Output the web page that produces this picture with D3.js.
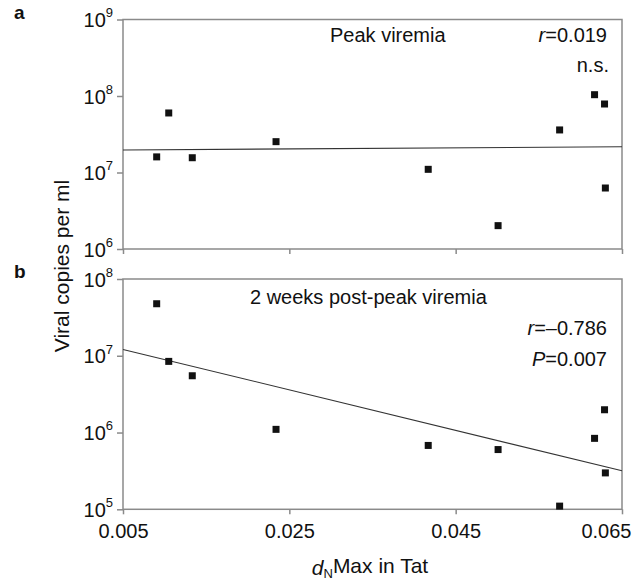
<!DOCTYPE html>
<html>
<head>
<meta charset="utf-8">
<script src="https://cdn.jsdelivr.net/npm/d3@7"></script>
<style>
	body { margin: 0; background: #fff; }
	svg { font-family: "Liberation Sans", Arial, sans-serif; }
</style>
</head>
<body>
<svg id="chart" width="642" height="583"></svg>
<script>
// dN max in Tat, one value per animal
var dnMax = [0.00905, 0.0105, 0.01333, 0.0234, 0.0417, 0.0501, 0.0575, 0.0617, 0.0629, 0.0630];

// viral copies per ml at peak viremia
var peakViremia = [1.6e7, 6.0e7, 1.56e7, 2.53e7, 1.1e7, 2.02e6, 3.6e7, 1.04e8, 7.86e7, 6.27e6];

// viral copies per ml 2 weeks post-peak
var postPeak = [4.76e7, 8.45e6, 5.49e6, 1.1e6, 6.79e5, 6.0e5, 1.1e5, 8.4e5, 1.98e6, 2.98e5];

// fitted lines, value at dN = 0.005 and 0.065
var fitX = [0.005, 0.065];
var fitPeak = [1.97e7, 2.17e7];
var fitPost = [1.21e7, 3.17e5];

var xTicks = [0.005, 0.025, 0.045, 0.065];
var peakTicks = [1e6, 1e7, 1e8, 1e9];
var postTicks = [1e5, 1e6, 1e7, 1e8];

var svg = d3.select("#chart");
var left = 123, right = 622;
var axisColor = "#8a8a8a";

var x = d3.scaleLinear()
	.domain([0.005, 0.065])
	.range([left, right]);

function drawPanel(opts) {
	var y = d3.scaleLog()
		.domain(opts.domain)
		.range([opts.bottom, opts.top]);

	var g = svg.append("g");

	// frame
	g.append("rect")
		.attr("x", left)
		.attr("y", opts.top)
		.attr("width", right - left)
		.attr("height", opts.bottom - opts.top)
		.attr("fill", "none")
		.attr("stroke", axisColor)
		.attr("stroke-width", 1.5);

	// x axis
	var xAxis = g.append("g")
		.attr("transform", "translate(0," + opts.bottom + ")")
		.call(d3.axisBottom(x)
			.tickValues(xTicks)
			.tickSize(5)
			.tickPadding(10)
			.tickFormat(opts.showX ? d3.format(".3f") : ""));
	xAxis.select(".domain").remove();
	xAxis.selectAll(".tick line").attr("stroke", axisColor).attr("stroke-width", 1.5);
	xAxis.selectAll(".tick text")
		.attr("font-size", 20)
		.attr("fill", "#111");
	// last label pulled in so it stays on the page
	xAxis.selectAll(".tick text")
		.filter((d) => d === 0.065)
		.attr("text-anchor", "end")
		.attr("x", 9);

	// y axis, powers of ten
	var yAxis = g.append("g")
		.attr("transform", "translate(" + left + ",0)")
		.call(d3.axisLeft(y)
			.tickValues(opts.ticks)
			.tickSize(6)
			.tickPadding(4)
			.tickFormat(""));
	yAxis.select(".domain").remove();
	yAxis.selectAll(".tick line").attr("stroke", axisColor).attr("stroke-width", 1.5);
	yAxis.selectAll(".tick text")
		.attr("fill", "#111")
		.attr("font-size", 20)
		.attr("dy", "0.35em")
		.each(function(d) {
			var t = d3.select(this);
			t.append("tspan").text("10");
			t.append("tspan")
				.attr("font-size", 13)
				.attr("dy", "-0.75em")
				.text(Math.round(Math.log10(d)));
		});

	// fit line
	var line = d3.line()
		.x((d) => x(d[0]))
		.y((d) => y(d[1]));
	g.append("path")
		.datum(d3.zip(fitX, opts.fit))
		.attr("d", line)
		.attr("fill", "none")
		.attr("stroke", "#333")
		.attr("stroke-width", 1.1);

	// points
	var s = 7;
	g.selectAll(".pt")
		.data(d3.zip(dnMax, opts.values))
		.enter()
		.append("rect")
		.attr("class", "pt")
		.attr("x", (d) => x(d[0]) - s / 2)
		.attr("y", (d) => y(d[1]) - s / 2)
		.attr("width", s)
		.attr("height", s)
		.attr("fill", "#111");

	// panel letter
	svg.append("text")
		.attr("x", 14)
		.attr("y", opts.top - 1)
		.attr("font-size", 19)
		.attr("font-weight", "bold")
		.attr("fill", "#111")
		.text(opts.letter);

	return g;
}

var a = drawPanel({
	domain: [1e6, 1e9], top: 19.5, bottom: 249,
	ticks: peakTicks, values: peakViremia, fit: fitPeak,
	showX: false, letter: "a"
});

var b = drawPanel({
	domain: [1e5, 1e8], top: 279, bottom: 509.3,
	ticks: postTicks, values: postPeak, fit: fitPost,
	showX: true, letter: "b"
});

// annotations
function note(g, xx, yy, anchor, parts) {
	var t = g.append("text")
		.attr("x", xx)
		.attr("y", yy)
		.attr("text-anchor", anchor)
		.attr("font-size", 20)
		.attr("fill", "#111");
	parts.forEach(function(p) {
		t.append("tspan")
			.attr("font-style", p.italic ? "italic" : null)
			.text(p.text);
	});
}

note(a, 330, 42, "start", [{ text: "Peak viremia" }]);
note(a, 607, 42, "end", [{ text: "r", italic: true }, { text: "=0.019" }]);
note(a, 609, 72, "end", [{ text: "n.s." }]);

note(b, 250, 304, "start", [{ text: "2 weeks post-peak viremia" }]);
note(b, 607, 335, "end", [{ text: "r", italic: true }, { text: "=\u20130.786" }]);
note(b, 607, 366, "end", [{ text: "P", italic: true }, { text: "=0.007" }]);

// axis titles
svg.append("text")
	.attr("transform", "translate(69,266) rotate(-90)")
	.attr("text-anchor", "middle")
	.attr("font-size", 21)
	.attr("fill", "#111")
	.text("Viral copies per ml");

var xt = svg.append("text")
	.attr("x", 370)
	.attr("y", 575)
	.attr("text-anchor", "middle")
	.attr("font-size", 21)
	.attr("fill", "#111");
xt.append("tspan").attr("font-style", "italic").text("d");
xt.append("tspan").attr("font-size", 13).attr("dy", "0.25em").text("N");
xt.append("tspan").attr("dy", "-0.25em").text("Max in Tat");
</script>
</body>
</html>
